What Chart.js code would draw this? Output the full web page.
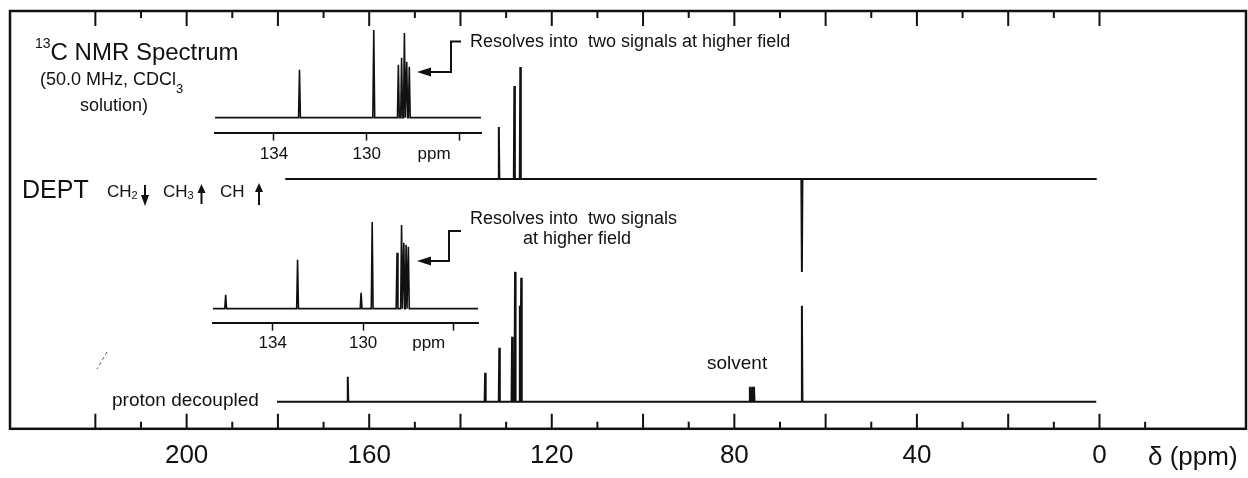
<!DOCTYPE html>
<html>
<head>
<meta charset="utf-8">
<script src="https://cdn.jsdelivr.net/npm/chart.js@4.4.1/dist/chart.umd.min.js"></script>
<style>
  html, body { margin: 0; padding: 0; background: #fff; }
  body { width: 1248px; height: 478px; position: relative; overflow: hidden;
         font-family: "Liberation Sans", Arial, sans-serif; color: #111; }
  canvas { position: absolute; }
  .lbl { position: absolute; white-space: pre; line-height: 1; }
  .sup { font-size: 14px; position: relative; top: -12px; }
  .sub { position: relative; }
  #marks { position: absolute; left: 0; top: 0; }
</style>
</head>
<body>
<canvas id="spectrum" width="1248" height="478" style="left:0;top:0"></canvas>
<canvas id="deptInset" width="290" height="150" style="left:205px;top:20px"></canvas>
<canvas id="decInset" width="290" height="150" style="left:203px;top:208px"></canvas>

<div class="lbl" style="left:35px;top:40px;font-size:24px"><span class="sup">13</span>C NMR Spectrum</div>
<div class="lbl" style="left:40px;top:70px;font-size:18px">(50.0 MHz, CDCl<span class="sub" style="font-size:13px;top:8px">3</span></div>
<div class="lbl" style="left:80px;top:96px;font-size:18px">solution)</div>
<div class="lbl" style="left:22px;top:177px;font-size:25px">DEPT</div>
<div class="lbl" style="left:107px;top:183px;font-size:17px">CH<span class="sub" style="font-size:11px;top:2px">2</span></div>
<div class="lbl" style="left:163px;top:183px;font-size:17px">CH<span class="sub" style="font-size:11px;top:2px">3</span></div>
<div class="lbl" style="left:220px;top:183px;font-size:17px">CH</div>
<div class="lbl" style="left:470px;top:32px;font-size:18px">Resolves into  two signals at higher field</div>
<div class="lbl" style="left:470px;top:209px;font-size:18px">Resolves into  two signals</div>
<div class="lbl" style="left:523px;top:229px;font-size:18px">at higher field</div>
<div class="lbl" style="left:707px;top:353px;font-size:19px">solvent</div>
<div class="lbl" style="left:112px;top:390px;font-size:19px">proton decoupled</div>
<div class="lbl" style="left:1148px;top:443px;font-size:26px">δ (ppm)</div>

<svg id="marks" width="1248" height="478">
  <g fill="none" stroke="#111" stroke-width="2">
    <polyline points="461,41.5 451,41.5 451,72 428,72"/>
    <polyline points="461,231 449,231 449,261 428,261"/>
    <line x1="145" y1="185" x2="145" y2="197"/>
    <line x1="201.5" y1="191" x2="201.5" y2="204"/>
    <line x1="259" y1="191" x2="259" y2="205"/>
  </g>
  <g fill="#111">
    <polygon points="417,72 431,67.5 431,76.5"/>
    <polygon points="417,261 431,256.5 431,265.5"/>
    <polygon points="145,206 141,195 149,195"/>
    <polygon points="201.5,184 197.5,193 205.5,193"/>
    <polygon points="259,183 255,192 263,192"/>
  </g>
  <line x1="107" y1="352" x2="97" y2="369" stroke="#555" stroke-width="1" stroke-dasharray="3,3"/>
</svg>

<script>
// 13C spectrum, shifts in ppm, peak heights in relative intensity
const deptShifts = [131.6, 128.2, 126.9, 65.2];
const deptHeights = [52, 93, 112, -93];
const decoupledShifts = [164.7, 134.6, 131.5, 128.7, 128.05, 127.0, 126.7, 76.6, 76.1, 75.7, 65.2];
const decoupledHeights = [25, 29, 54, 65, 130, 96, 124, 15, 15, 15, 96];

// expansions of the aromatic region
const deptInsetShifts = [132.9, 129.7, 128.64, 128.5, 128.38, 128.28, 128.17];
const deptInsetHeights = [48, 88, 53, 60, 85, 56, 51];
const decInsetShifts = [136.08, 132.9, 130.09, 129.6, 128.5, 128.3, 128.2, 128.1, 128.0];
const decInsetHeights = [14, 49, 16, 87, 56, 84, 66, 64, 62];

// axis ticks
const axisLabels = [200, 160, 120, 80, 40, 0];
const majorTicks = [220, 200, 180, 160, 140, 120, 100, 80, 60, 40, 20, 0];
const minorTicks = [210, 190, 170, 150, 130, 110, 90, 70, 50, 30, 10];
const bottomOnlyTicks = [-10];
const insetTicks = [134, 130, 127.1, 126];
const insetTickLabels = ["134", "130", "ppm", ""];

const INK = "#111";

// turn a peak list into a stick spectrum on a flat baseline
function sticks(from, to, shifts, heights, base, w) {
  const pts = [{ x: from, y: base }];
  shifts.forEach((s, i) => {
    pts.push({ x: s + w, y: base }, { x: s, y: base + heights[i] }, { x: s - w, y: base });
  });
  pts.push({ x: to, y: base });
  return pts;
}

function lineSet(label, data, width) {
  return {
    label: label,
    data: data,
    borderColor: INK,
    borderWidth: width,
    pointRadius: 0,
    tension: 0,
    fill: false,
  };
}

const frameTicks = {
  id: "frameTicks",
  afterDraw(chart) {
    const { ctx, chartArea: a, scales: { x } } = chart;
    ctx.save();
    ctx.strokeStyle = INK;
    ctx.lineWidth = 2.5;
    ctx.strokeRect(a.left, a.top, a.right - a.left, a.bottom - a.top);
    ctx.lineWidth = 2;
    ctx.beginPath();
    majorTicks.forEach((v) => {
      const px = x.getPixelForValue(v);
      ctx.moveTo(px, a.top); ctx.lineTo(px, a.top + 15);
      ctx.moveTo(px, a.bottom); ctx.lineTo(px, a.bottom - 15);
    });
    minorTicks.forEach((v) => {
      const px = x.getPixelForValue(v);
      ctx.moveTo(px, a.top); ctx.lineTo(px, a.top + 7);
      ctx.moveTo(px, a.bottom); ctx.lineTo(px, a.bottom - 7);
    });
    bottomOnlyTicks.forEach((v) => {
      const px = x.getPixelForValue(v);
      ctx.moveTo(px, a.bottom); ctx.lineTo(px, a.bottom - 7);
    });
    ctx.stroke();
    ctx.restore();
  },
};

new Chart(document.getElementById("spectrum"), {
  type: "line",
  data: {
    datasets: [
      lineSet("DEPT", sticks(178.4, 0.6, deptShifts, deptHeights, 250, 0.12), 2),
      lineSet("proton decoupled", sticks(180.2, 0.7, decoupledShifts, decoupledHeights, 27, 0.12), 2),
    ],
  },
  options: {
    responsive: false,
    animation: false,
    layout: { padding: { left: 10, right: 2, top: 11, bottom: -4 } },
    plugins: { legend: { display: false }, tooltip: { enabled: false } },
    scales: {
      x: {
        type: "linear",
        reverse: true,
        min: -32.1,
        max: 238.7,
        grid: { display: false, drawTicks: false },
        border: { display: false },
        afterBuildTicks: (axis) => { axis.ticks = axisLabels.map((v) => ({ value: v })); },
        ticks: {
          autoSkip: false,
          maxRotation: 0,
          padding: 11,
          color: INK,
          font: { family: "Liberation Sans", size: 26, lineHeight: 1.2 },
          callback: (v) => String(v),
        },
      },
      y: { display: false, min: 0, max: 418 },
    },
  },
  plugins: [frameTicks],
});

function inset(id, shifts, heights, range, base, top, pad) {
  new Chart(document.getElementById(id), {
    type: "line",
    data: { datasets: [lineSet("expansion", sticks(range[1], range[0], shifts, heights, base, 0.04), 1.6)] },
    options: {
      responsive: false,
      animation: false,
      layout: { padding: pad },
      plugins: { legend: { display: false }, tooltip: { enabled: false } },
      scales: {
        x: {
          type: "linear",
          reverse: true,
          min: range[0],
          max: range[1],
          grid: {
            drawOnChartArea: false,
            drawTicks: true,
            tickLength: 8,
            tickWidth: 1.5,
            tickColor: (c) => (c.tick && c.tick.label === "ppm" ? "rgba(0,0,0,0)" : INK),
          },
          border: { display: true, color: INK, width: 2 },
          afterBuildTicks: (axis) => { axis.ticks = insetTicks.map((v) => ({ value: v })); },
          ticks: {
            autoSkip: false,
            maxRotation: 0,
            padding: pad.tick,
            color: INK,
            font: { family: "Liberation Sans", size: 17, lineHeight: 1.2 },
            callback: (v) => insetTickLabels[insetTicks.indexOf(v)],
          },
        },
        y: { display: false, min: 0, max: top },
      },
    },
  });
}

inset("deptInset", deptInsetShifts, deptInsetHeights, [125.08, 136.54], 15, 108,
  { left: 10, right: 14, top: 5, bottom: 1, tick: 4 });
inset("decInset", decInsetShifts, decInsetHeights, [124.92, 136.64], 14, 110,
  { left: 10, right: 15, top: 5, bottom: 1, tick: 3 });
</script>
</body>
</html>
